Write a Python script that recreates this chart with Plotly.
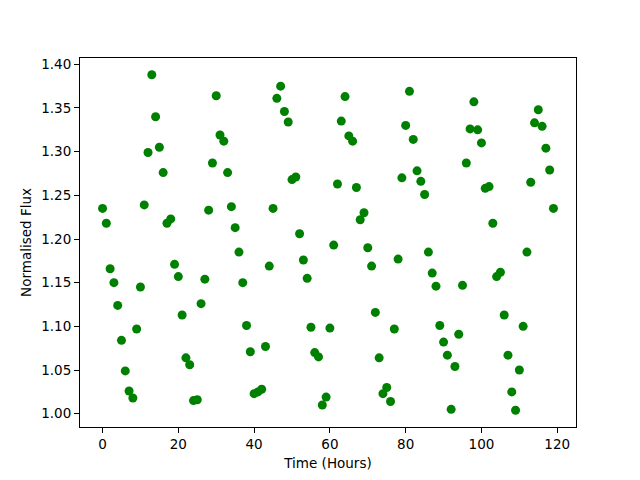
import plotly.graph_objects as go

hours = list(range(120))
flux = [
    1.235, 1.218, 1.166, 1.150, 1.124, 1.084, 1.049, 1.026, 1.018, 1.097,
    1.145, 1.239, 1.299, 1.388, 1.340, 1.305, 1.276, 1.218, 1.223, 1.171,
    1.157, 1.113, 1.064, 1.056, 1.015, 1.016, 1.126, 1.154, 1.233, 1.287,
    1.364, 1.319, 1.312, 1.276, 1.237, 1.213, 1.185, 1.150, 1.101, 1.071,
    1.023, 1.025, 1.028, 1.077, 1.169, 1.235, 1.361, 1.375, 1.346, 1.334,
    1.268, 1.271, 1.206, 1.176, 1.155, 1.099, 1.070, 1.065, 1.010, 1.019,
    1.098, 1.193, 1.263, 1.335, 1.363, 1.318, 1.312, 1.259, 1.222, 1.230,
    1.190, 1.169, 1.116, 1.064, 1.023, 1.030, 1.014, 1.097, 1.177, 1.270,
    1.330, 1.369, 1.314, 1.278, 1.266, 1.251, 1.185, 1.161, 1.146, 1.101,
    1.082, 1.067, 1.005, 1.054, 1.091, 1.147, 1.287, 1.326, 1.357, 1.325,
    1.310, 1.258, 1.260, 1.218, 1.157, 1.162, 1.113, 1.067, 1.025, 1.004,
    1.050, 1.100, 1.185, 1.265, 1.333, 1.348, 1.329, 1.304, 1.279, 1.235,
]
x_ticks = [0, 20, 40, 60, 80, 100, 120]
y_ticks = [1.00, 1.05, 1.10, 1.15, 1.20, 1.25, 1.30, 1.35, 1.40]

fig = go.Figure(go.Scatter(
    x=hours, y=flux, mode="markers",
    marker=dict(color="#008000", size=9, line=dict(width=0)),
))

axis_common = dict(
    showline=True, linecolor="black", linewidth=1, mirror=True,
    ticks="outside", ticklen=5, tickwidth=1, tickcolor="black",
    showgrid=False, zeroline=False, automargin=False,
    tickfont=dict(family="DejaVu Sans", size=13.5, color="black"),
)

fig.update_layout(
    width=640, height=480,
    margin=dict(l=72, r=72, t=50, b=61),
    paper_bgcolor="white", plot_bgcolor="white",
    showlegend=False,
    font=dict(family="DejaVu Sans", size=13.5, color="black"),
    xaxis=dict(range=[-5.95, 124.95], tickvals=x_ticks,
               title=dict(text="Time (Hours)", font=dict(size=13.5), standoff=7),
               **axis_common),
    yaxis=dict(range=[0.9848, 1.4072], tickvals=y_ticks, tickformat=".2f",
               title=dict(text="Normalised Flux", font=dict(size=13.5), standoff=6),
               **axis_common),
)

fig.write_html("out.html")
